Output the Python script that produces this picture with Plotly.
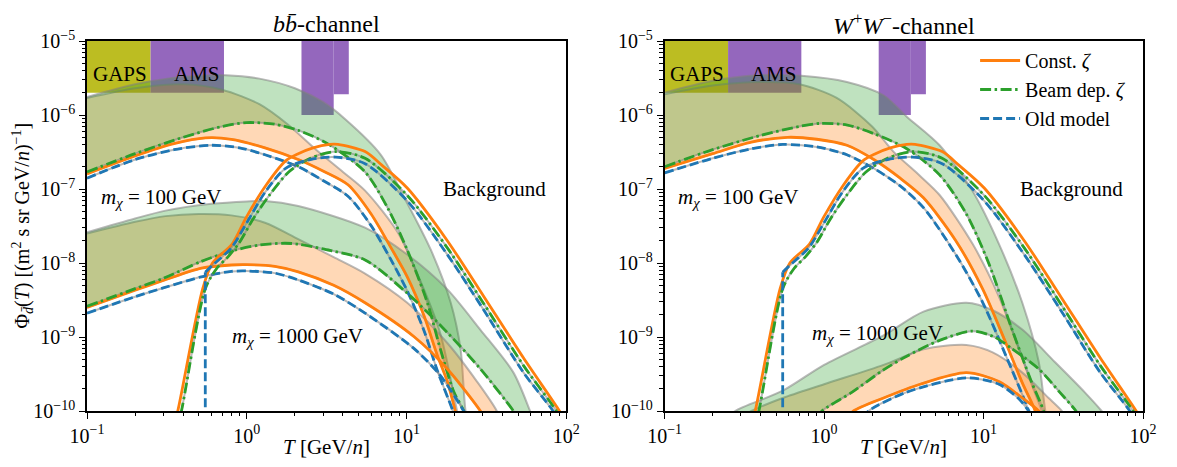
import plotly.graph_objects as go

# ---------------- data: b b-bar channel (left panel) ----------------
# m_chi = 100 GeV
bb100_beam_up_T = [0.1, 0.2, 0.35, 0.5, 0.74, 1.2, 2.0, 3.0, 4.1, 6.9, 9.7, 14.2, 18.9, 21.8, 23.4, 25]
bb100_beam_up_phi = [1.75e-6, 2.6e-6, 3.2e-6, 3.4e-6, 3.45e-6, 3.1e-6, 2.3e-6, 1.5e-6, 8.9e-7, 2.9e-7, 7.6e-8, 1.5e-8, 2.9e-9, 6.8e-10, 1e-10, 5e-11]
bb100_beam_T = [0.1, 0.2, 0.4, 0.7, 1.0, 1.5, 2.1, 3.2, 5.5, 7.6, 10.1, 13.5, 16.3, 19.8, 22.8, 24]
bb100_beam_phi = [1.7e-7, 3.0e-7, 5.0e-7, 7.0e-7, 7.9e-7, 7.5e-7, 6.2e-7, 4.1e-7, 1.7e-7, 5.6e-8, 1.5e-8, 2.9e-9, 6.8e-10, 1.8e-10, 1e-10, 6e-11]
bb100_const_up_T = [0.1, 0.2, 0.4, 0.7, 1.2, 1.8, 2.67, 4.0, 5.5, 8.8, 12.3, 16.3, 20.7, 22]
bb100_const_up_phi = [1.7e-6, 2.3e-6, 2.6e-6, 2.2e-6, 1.4e-6, 7.5e-7, 3.5e-7, 1.7e-7, 9.5e-8, 2.6e-8, 5.5e-9, 1.1e-9, 1e-10, 5e-11]
bb100_const_T = [0.1, 0.2, 0.35, 0.55, 0.8, 1.3, 2.1, 3.0, 4.3, 6.0, 8.0, 10.1, 12.9, 15.6, 18, 20.2, 21.5]
bb100_const_phi = [1.6e-7, 2.8e-7, 4.1e-7, 4.9e-7, 4.7e-7, 3.6e-7, 2.5e-7, 1.75e-7, 1.14e-7, 4.6e-8, 1.6e-8, 6.5e-9, 1.9e-9, 5.6e-10, 2.5e-10, 1e-10, 6e-11]
bb100_old_T = [0.1, 0.2, 0.35, 0.6, 0.9, 1.3, 2.1, 3.0, 4.3, 6.0, 8.0, 10.1, 12.9, 15.6, 19.5, 21]
bb100_old_phi = [1.4e-7, 2.5e-7, 3.4e-7, 3.9e-7, 3.6e-7, 2.9e-7, 2.0e-7, 1.3e-7, 8e-8, 3.2e-8, 1.1e-8, 4.2e-9, 1.2e-9, 3.5e-10, 1e-10, 6e-11]
# m_chi = 1000 GeV
bb1000_beam_up_T = [0.1, 0.2, 0.31, 0.6, 1.0, 1.3, 2.1, 5.5, 10.1, 18, 29, 46.7, 59.3, 65]
bb1000_beam_up_phi = [2.6e-8, 4.0e-8, 5.1e-8, 6.3e-8, 6.8e-8, 6.9e-8, 5.9e-8, 3.0e-8, 1.3e-8, 4.4e-9, 1.25e-9, 3.3e-10, 1e-10, 6e-11]
bb1000_beam_T = [0.1, 0.2, 0.3, 0.52, 0.8, 1.2, 1.73, 2.1, 3.0, 5.5, 10.1, 18, 29, 46.7, 52]
bb1000_beam_phi = [2.6e-9, 4.5e-9, 6.2e-9, 1.05e-8, 1.45e-8, 1.75e-8, 1.85e-8, 1.8e-8, 1.55e-8, 1.1e-8, 3.9e-9, 1.15e-9, 3.7e-10, 1e-10, 7e-11]
bb1000_const_up_T = [0.1, 0.2, 0.31, 0.5, 0.8, 1.3, 2.1, 3.5, 5.5, 10.1, 18, 27.6, 36.7, 40]
bb1000_const_up_phi = [2.5e-8, 3.6e-8, 4.3e-8, 4.6e-8, 4.4e-8, 3.5e-8, 2.1e-8, 1.2e-8, 7.2e-9, 2.9e-9, 8.3e-10, 2.5e-10, 1e-10, 6e-11]
bb1000_const_T = [0.1, 0.2, 0.3, 0.52, 0.8, 1.0, 1.5, 2.1, 3.5, 5.5, 11.2, 18, 29, 32]
bb1000_const_phi = [2.5e-9, 4.3e-9, 5.8e-9, 8.5e-9, 9.4e-9, 9.5e-9, 9.0e-9, 7.6e-9, 5.0e-9, 2.9e-9, 1.0e-9, 3.7e-10, 1e-10, 7e-11]
bb1000_old_T = [0.1, 0.2, 0.3, 0.52, 0.8, 1.0, 1.5, 2.1, 3.5, 5.5, 11.2, 16.3, 22.8, 25]
bb1000_old_phi = [2.1e-9, 3.5e-9, 4.6e-9, 6.5e-9, 7.7e-9, 7.8e-9, 7.3e-9, 5.9e-9, 3.8e-9, 2.1e-9, 6.9e-10, 3.0e-10, 1e-10, 7e-11]

# ---------------- data: W+ W- channel (right panel) ----------------
ww100_beam_up_T = [0.1, 0.2, 0.38, 0.72, 1.39, 2.36, 3.3, 5.3, 8.55, 12.5, 17.5, 22.2, 24.4, 26]
ww100_beam_up_phi = [2.0e-6, 2.9e-6, 3.45e-6, 3.4e-6, 2.8e-6, 1.85e-6, 9.5e-7, 3.9e-7, 9.3e-8, 1.8e-8, 2.9e-9, 4.6e-10, 1e-10, 5e-11]
ww100_beam_T = [0.1, 0.2, 0.4, 0.7, 0.95, 1.4, 2.05, 3.3, 5.3, 7.8, 10.8, 15.1, 20.1, 23.8, 25]
ww100_beam_phi = [2.0e-7, 3.4e-7, 5.3e-7, 7.0e-7, 7.7e-7, 7.3e-7, 5.6e-7, 3.5e-7, 1.55e-7, 4.6e-8, 9.8e-9, 1.26e-9, 2.4e-10, 1e-10, 6e-11]
ww100_const_up_T = [0.1, 0.2, 0.4, 0.7, 1.2, 2.0, 2.72, 4.0, 5.3, 8.55, 12.5, 16.7, 20, 23.2, 25]
ww100_const_up_phi = [1.9e-6, 2.5e-6, 2.8e-6, 2.6e-6, 1.7e-6, 7e-7, 3.2e-7, 1.5e-7, 8.3e-8, 1.8e-8, 3.5e-9, 6.8e-10, 2.3e-10, 1e-10, 5e-11]
ww100_const_T = [0.1, 0.2, 0.35, 0.59, 0.9, 1.39, 2.05, 3.0, 4.2, 6.7, 9.9, 13.8, 17.5, 21.1, 22.5]
ww100_const_phi = [1.9e-7, 3.0e-7, 4.3e-7, 5.0e-7, 4.7e-7, 3.9e-7, 2.5e-7, 1.4e-7, 7.6e-8, 2.0e-8, 4.4e-9, 8.3e-10, 2.4e-10, 1e-10, 6e-11]
ww100_old_T = [0.1, 0.2, 0.35, 0.55, 0.9, 1.39, 2.05, 3.0, 4.2, 6.7, 9.9, 13.8, 19.2, 20.5]
ww100_old_phi = [1.65e-7, 2.6e-7, 3.5e-7, 4.0e-7, 3.7e-7, 2.9e-7, 1.9e-7, 1.1e-7, 5.6e-8, 1.3e-8, 2.9e-9, 5.6e-10, 1e-10, 6e-11]
ww1000_beam_up_T = [0.25, 0.277, 0.555, 1.0, 2.36, 4.2, 7.8, 11.4, 17.5, 28, 43, 55, 62]
ww1000_beam_up_phi = [8e-11, 1e-10, 1.9e-10, 4.2e-10, 1.05e-9, 2.2e-9, 2.9e-9, 2.3e-9, 1.26e-9, 4.6e-10, 1.8e-10, 1e-10, 7e-11]
ww1000_beam_T = [0.9, 0.97, 1.5, 2.36, 3.3, 5.3, 8.5, 11.7, 15, 22.2, 30, 38, 42]
ww1000_beam_phi = [8e-11, 1e-10, 1.8e-10, 3.6e-10, 5.5e-10, 9e-10, 1.2e-9, 1.0e-9, 7e-10, 3.7e-10, 1.8e-10, 1e-10, 7e-11]
ww1000_const_up_T = [0.3, 0.35, 0.55, 1.0, 2.36, 4.2, 7.8, 11.4, 17.5, 25.6, 31, 34]
ww1000_const_up_phi = [8e-11, 1e-10, 1.5e-10, 2.3e-10, 4.2e-10, 6.8e-10, 7.8e-10, 6.2e-10, 3.3e-10, 1.5e-10, 1e-10, 7e-11]
ww1000_const_T = [1.4, 1.53, 2.36, 4.0, 7.8, 12.5, 17.5, 22.2, 24]
ww1000_const_phi = [8e-11, 1e-10, 1.5e-10, 2.3e-10, 3.3e-10, 2.5e-10, 1.5e-10, 1e-10, 8e-11]
ww1000_old_T = [1.75, 1.9, 3.3, 7.8, 12.5, 17, 19.2, 21]
ww1000_old_phi = [8e-11, 1e-10, 1.8e-10, 2.8e-10, 2.3e-10, 1.4e-10, 1e-10, 8e-11]

# ---------------- data: secondary background (both panels) ----------------
bg_const_T = [0.34, 0.37, 0.53, 0.61, 0.81, 0.99, 1.31, 1.75, 2.1, 2.6, 3.3, 3.72, 5.5, 7.0, 10.1, 18, 30.5, 54, 90.6, 100]
bg_const_phi = [5e-11, 1e-10, 4.5e-9, 1.0e-8, 1.8e-8, 4.1e-8, 1.1e-7, 2.4e-7, 3.0e-7, 3.6e-7, 4.0e-7, 4.0e-7, 3.2e-7, 2.1e-7, 1.03e-7, 2.0e-8, 3.5e-9, 5.2e-10, 1e-10, 7e-11]
bg_beam_T = [0.36, 0.39, 0.55, 0.65, 0.76, 0.9, 1.1, 1.4, 1.83, 2.5, 3.6, 5.5, 10.1, 18, 30.5, 54, 86.7, 95]
bg_beam_phi = [5e-11, 1e-10, 4.5e-9, 8.5e-9, 1.2e-8, 1.9e-8, 4e-8, 8.5e-8, 1.7e-7, 2.6e-7, 3.2e-7, 2.6e-7, 8.2e-8, 1.6e-8, 2.8e-9, 4.1e-10, 1e-10, 7e-11]
bg_old_cut_T = [0.55, 0.55]
bg_old_cut_phi = [5e-11, 7.5e-9]
bg_old_T = [0.55, 0.6, 0.8, 1.0, 1.3, 1.75, 2.5, 3.6, 5.5, 10.1, 18, 30.5, 54, 82.6, 90]
bg_old_phi = [7.5e-9, 9e-9, 1.6e-8, 3.5e-8, 9e-8, 1.9e-7, 2.5e-7, 2.7e-7, 2.2e-7, 6.9e-8, 1.3e-8, 2.3e-9, 3.3e-10, 1e-10, 7e-11]

# ---------------- data: experiment sensitivities ----------------
gaps_T = [0.1, 0.25]
gaps_phi = [2e-6, 1e-5]
ams_low_T = [0.25, 0.72]
ams_low_phi = [2e-6, 1e-5]
ams_hi1_T = [2.2, 3.5]
ams_hi1_phi = [1e-6, 1e-5]
ams_hi2_T = [3.5, 4.35]
ams_hi2_phi = [1.9e-6, 1e-5]

x_tickvals = [0.1, 1, 10, 100]
x_ticktext = ["10<sup>−1</sup>", "10<sup>0</sup>", "10<sup>1</sup>", "10<sup>2</sup>"]
y_tickvals = [1e-10, 1e-9, 1e-8, 1e-7, 1e-6, 1e-5]
y_ticktext = ["10<sup>−10</sup>", "10<sup>−9</sup>", "10<sup>−8</sup>", "10<sup>−7</sup>", "10<sup>−6</sup>", "10<sup>−5</sup>"]

# ---------------- style ----------------
FONT = "Liberation Serif"
ORANGE = "#ff7f0e"
GREEN = "#2ca02c"
BLUE = "#1f77b4"
GRAY = "rgba(127,127,127,0.55)"
ORANGE_FILL = "rgba(255,127,14,0.30)"
GREEN_FILL = "rgba(44,160,44,0.30)"
LW = 2.8
SMOOTH = 0.8

fig = go.Figure()


def rect(T, P, color, xa, ya):
    fig.add_trace(go.Scatter(
        x=[T[0], T[1], T[1], T[0], T[0]], y=[P[0], P[0], P[1], P[1], P[0]],
        mode="lines", fill="toself", fillcolor=color, line=dict(width=0),
        xaxis=xa, yaxis=ya, showlegend=False, hoverinfo="skip"))


def band(lowT, lowP, upT, upP, fillcolor, xa, ya):
    fig.add_trace(go.Scatter(
        x=lowT, y=lowP, mode="lines",
        line=dict(color=GRAY, width=2, shape="spline", smoothing=SMOOTH),
        xaxis=xa, yaxis=ya, showlegend=False, hoverinfo="skip"))
    fig.add_trace(go.Scatter(
        x=upT, y=upP, mode="lines", fill="tonexty", fillcolor=fillcolor,
        line=dict(color=GRAY, width=2, shape="spline", smoothing=SMOOTH),
        xaxis=xa, yaxis=ya, showlegend=False, hoverinfo="skip"))


def curve(T, P, color, dash, xa, ya, name=None, legend=False, shape="spline", gray=False, rank=1000):
    if gray:
        fig.add_trace(go.Scatter(
            x=T, y=P, mode="lines",
            line=dict(color=GRAY, width=2, shape=shape, smoothing=SMOOTH),
            xaxis=xa, yaxis=ya, showlegend=False, hoverinfo="skip"))
    fig.add_trace(go.Scatter(
        x=T, y=P, mode="lines", name=name, legendrank=rank,
        line=dict(color=color, width=LW, dash=dash, shape=shape, smoothing=SMOOTH),
        xaxis=xa, yaxis=ya, showlegend=legend, hoverinfo="skip"))


DASH = "9px,4px"
DASHDOT = "11px,3.5px,2.5px,3.5px"

panels = [
    ("x", "y", dict(
        c100=(bb100_const_T, bb100_const_phi), c100u=(bb100_const_up_T, bb100_const_up_phi),
        b100=(bb100_beam_T, bb100_beam_phi), b100u=(bb100_beam_up_T, bb100_beam_up_phi),
        o100=(bb100_old_T, bb100_old_phi),
        c1000=(bb1000_const_T, bb1000_const_phi), c1000u=(bb1000_const_up_T, bb1000_const_up_phi),
        b1000=(bb1000_beam_T, bb1000_beam_phi), b1000u=(bb1000_beam_up_T, bb1000_beam_up_phi),
        o1000=(bb1000_old_T, bb1000_old_phi)), False),
    ("x2", "y2", dict(
        c100=(ww100_const_T, ww100_const_phi), c100u=(ww100_const_up_T, ww100_const_up_phi),
        b100=(ww100_beam_T, ww100_beam_phi), b100u=(ww100_beam_up_T, ww100_beam_up_phi),
        o100=(ww100_old_T, ww100_old_phi),
        c1000=(ww1000_const_T, ww1000_const_phi), c1000u=(ww1000_const_up_T, ww1000_const_up_phi),
        b1000=(ww1000_beam_T, ww1000_beam_phi), b1000u=(ww1000_beam_up_T, ww1000_beam_up_phi),
        o1000=(ww1000_old_T, ww1000_old_phi)), True),
]

for xa, ya, d, leg in panels:
    rect(gaps_T, gaps_phi, "#bcbd22", xa, ya)
    rect(ams_low_T, ams_low_phi, "#9467bd", xa, ya)
    rect(ams_hi1_T, ams_hi1_phi, "#9467bd", xa, ya)
    rect(ams_hi2_T, ams_hi2_phi, "#9467bd", xa, ya)
    for m in ("100", "1000"):
        band(*d["c" + m], *d["c" + m + "u"], ORANGE_FILL, xa, ya)
        band(*d["b" + m], *d["b" + m + "u"], GREEN_FILL, xa, ya)
    for m in ("100", "1000"):
        is_leg = leg and m == "100"
        curve(*d["c" + m], ORANGE, "solid", xa, ya, "Const. <i>ζ</i>", is_leg, rank=1)
        curve(*d["b" + m], GREEN, DASHDOT, xa, ya, "Beam dep. <i>ζ</i>", is_leg, rank=2)
        curve(*d["o" + m], BLUE, DASH, xa, ya, "Old model", is_leg, gray=True, rank=3)
    curve(bg_const_T, bg_const_phi, ORANGE, "solid", xa, ya, shape="spline")
    curve(bg_beam_T, bg_beam_phi, GREEN, DASHDOT, xa, ya, shape="spline", gray=True)
    curve(bg_old_cut_T, bg_old_cut_phi, BLUE, DASH, xa, ya, shape="linear")
    curve(bg_old_T, bg_old_phi, BLUE, DASH, xa, ya, shape="spline", gray=True)

axis_common = dict(
    showline=True, linecolor="black", linewidth=1.6, mirror=True,
    ticks="outside", ticklen=6, tickwidth=1.2, tickcolor="black",
    showgrid=False, zeroline=False,
    tickfont=dict(family=FONT, size=20, color="black"),
    minor=dict(ticks="outside", ticklen=3.5, tickwidth=1, tickcolor="black", dtick="D1", showgrid=False),
)
xax = dict(type="log", range=[-1, 2], tickmode="array", tickvals=x_tickvals, ticktext=x_ticktext, **axis_common)
yax = dict(type="log", range=[-10, -5], tickmode="array", tickvals=y_tickvals, ticktext=y_ticktext, **axis_common)

L_DOM = [0.0, 0.4539]
R_DOM = [0.547, 1.0]

# the page body has an 8px margin, so the figure is made 16px smaller and margins shifted by 8px
fig.update_layout(
    width=1161, height=451,
    margin=dict(l=79, r=18, t=33, b=43),
    paper_bgcolor="white", plot_bgcolor="white",
    font=dict(family=FONT, size=20, color="black"),
    xaxis=dict(domain=L_DOM, anchor="y", **xax),
    yaxis=dict(domain=[0, 1], anchor="x", **yax),
    xaxis2=dict(domain=R_DOM, anchor="y2", **xax),
    yaxis2=dict(domain=[0, 1], anchor="x2", **yax),
    legend=dict(x=0.841, y=1.0, xanchor="left", yanchor="top", bgcolor="rgba(255,255,255,0)",
                traceorder="normal", font=dict(family=FONT, size=20, color="black"),
                tracegroupgap=0, itemwidth=40),
    showlegend=True,
)

TXT = dict(family=FONT, size=21, color="black")
ann = []
for xa, ya, m1000_pos in (("x", "y", (0.32, -9.0)), ("x2", "y2", (0.337, -8.96))):
    ann += [
        dict(x=-0.795, y=-5.44, xref=xa, yref=ya, text="GAPS", showarrow=False, font=TXT),
        dict(x=-0.314, y=-5.44, xref=xa, yref=ya, text="AMS", showarrow=False, font=TXT),
        dict(x=-0.54, y=-7.12, xref=xa, yref=ya, text="<i>m</i><sub><i>χ</i></sub> = 100 GeV", showarrow=False, font=TXT),
        dict(x=m1000_pos[0], y=m1000_pos[1], xref=xa, yref=ya, text="<i>m</i><sub><i>χ</i></sub> = 1000 GeV", showarrow=False, font=TXT),
        dict(x=1.55, y=-7.0, xref=xa, yref=ya, text="Background", showarrow=False, font=TXT),
    ]
for dom, title in ((L_DOM, "<i>b</i><i>b\u0304</i>-channel"), (R_DOM, "<i>W</i><sup>+</sup><i>W</i><sup>−</sup>-channel")):
    cx = (dom[0] + dom[1]) / 2
    ann.append(dict(x=cx, y=1.045, xref="paper", yref="paper", text=title, showarrow=False,
                    xanchor="center", yanchor="middle", font=dict(family=FONT, size=24, color="black")))
    ann.append(dict(x=cx, y=-0.096, xref="paper", yref="paper", text="<i>T</i> [GeV/<i>n</i>]", showarrow=False,
                    xanchor="center", yanchor="middle", font=TXT))
ann.append(dict(x=-0.061, y=0.5, xref="paper", yref="paper", textangle=-90, showarrow=False,
                xanchor="center", yanchor="middle",
                text="Φ<sub><i>d\u0304</i></sub>(<i>T</i>) [(m<sup>2</sup> s sr GeV/<i>n</i>)<sup>−1</sup>]",
                font=dict(family=FONT, size=20, color="black")))
fig.update_layout(annotations=ann)

fig.write_html("out.html")
